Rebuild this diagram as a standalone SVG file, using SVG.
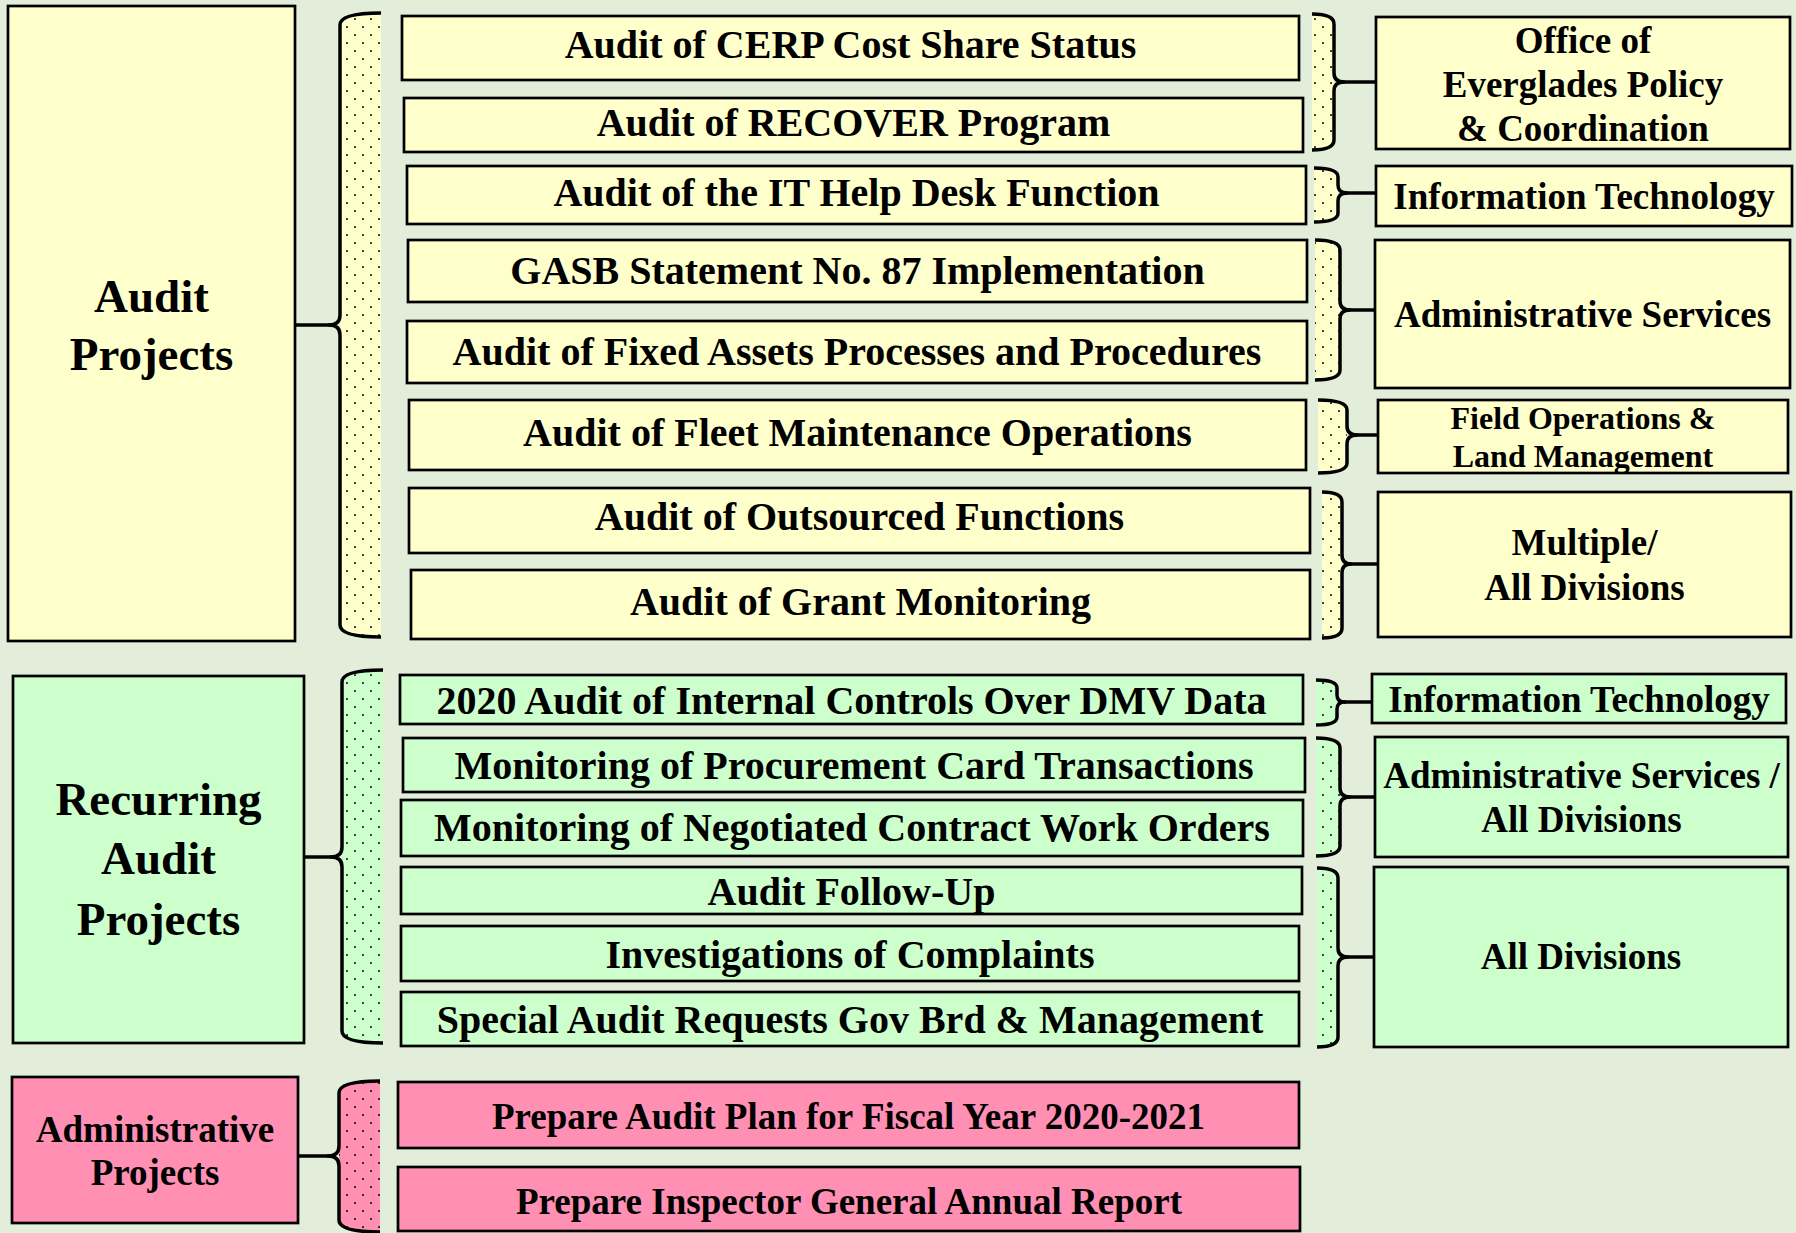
<svg xmlns="http://www.w3.org/2000/svg" width="1796" height="1233" viewBox="0 0 1796 1233">
  <defs>
    <style>
      .bg { fill: #E2EDDA; }
      .y { fill: #FFFFCC; stroke: #000; stroke-width: 2.7; }
      .g { fill: #CCFFCC; stroke: #000; stroke-width: 2.7; }
      .p { fill: #FF8FB3; stroke: #000; stroke-width: 2.7; }
      .fy { fill: #FFFFCC; }
      .fg { fill: #CCFFCC; }
      .fp { fill: #FF8FB3; }
      .dots { fill: url(#dotPattern); }
      .br { fill: none; stroke: #000; stroke-width: 3.5; stroke-linejoin: round; }
      .t { font-family: "Liberation Serif", "Times New Roman", serif; font-weight: bold; text-anchor: middle; fill: #000; }
      .s47 { font-size: 47px; }
      .s40 { font-size: 40px; }
      .s37 { font-size: 37px; }
      .s32 { font-size: 32px; }
    </style>
    <pattern id="dotPattern" x="0" y="0" width="16" height="16" patternUnits="userSpaceOnUse">
      <rect x="2.2" y="2.2" width="1.7" height="1.7" fill="#000"/>
      <rect x="10.2" y="10.2" width="1.7" height="1.7" fill="#000"/>
    </pattern>
  </defs>

  <rect class="bg" x="0" y="0" width="1796" height="1233"/>

  <!-- Braces joining categories, projects and divisions -->
  <g id="connectors">
    <!-- Audit Projects brace -->
    <g id="brace-audit">
      <path class="fy" d="M381,13 Q340,13 340,25 L340,625 Q340,637 381,637 Z"/>
      <path class="dots" d="M381,13 Q340,13 340,25 L340,625 Q340,637 381,637 Z"/>
      <path class="br" d="M381,13 Q340,13 340,25 L340,315 Q340,325 329,325 Q340,325 340,335 L340,625 Q340,637 381,637"/>
      <path class="br" d="M295,325 L330,325"/>
    </g>
    <!-- Recurring Audit Projects brace -->
    <g id="brace-recurring">
      <path class="fg" d="M383,670 Q342,670 342,682 L342,1031 Q342,1043 383,1043 Z"/>
      <path class="dots" d="M383,670 Q342,670 342,682 L342,1031 Q342,1043 383,1043 Z"/>
      <path class="br" d="M383,670 Q342,670 342,682 L342,847 Q342,857 331,857 Q342,857 342,867 L342,1031 Q342,1043 383,1043"/>
      <path class="br" d="M304,857 L332,857"/>
    </g>
    <!-- Administrative Projects brace -->
    <g id="brace-admin">
      <path class="fp" d="M380,1081 Q339,1081 339,1093 L339,1220 Q339,1232 380,1232 Z"/>
      <path class="dots" d="M380,1081 Q339,1081 339,1093 L339,1220 Q339,1232 380,1232 Z"/>
      <path class="br" d="M380,1081 Q339,1081 339,1093 L339,1146 Q339,1156 328,1156 Q339,1156 339,1166 L339,1220 Q339,1232 380,1232"/>
      <path class="br" d="M298,1156 L329,1156"/>
    </g>

    <!-- Division braces (yellow) -->
    <g id="brace-everglades">
      <path class="fy" d="M1312,14 Q1334,14 1334,24 L1334,140 Q1334,150 1312,150 Z"/>
      <path class="dots" d="M1312,14 Q1334,14 1334,24 L1334,140 Q1334,150 1312,150 Z"/>
      <path class="br" d="M1312,14 Q1334,14 1334,24 L1334,73 Q1334,82 1344,82 Q1334,82 1334,91 L1334,140 Q1334,150 1312,150"/>
      <path class="br" d="M1343,82 L1376,82"/>
    </g>
    <g id="brace-it">
      <path class="fy" d="M1314,168 Q1338,168 1338,177 L1338,213 Q1338,222 1314,222 Z"/>
      <path class="dots" d="M1314,168 Q1338,168 1338,177 L1338,213 Q1338,222 1314,222 Z"/>
      <path class="br" d="M1314,168 Q1338,168 1338,177 L1338,185 Q1338,193 1347,193 Q1338,193 1338,201 L1338,213 Q1338,222 1314,222"/>
      <path class="br" d="M1346,193 L1376,193"/>
    </g>
    <g id="brace-admin-services">
      <path class="fy" d="M1315,240 Q1340,240 1340,250 L1340,370 Q1340,380 1315,380 Z"/>
      <path class="dots" d="M1315,240 Q1340,240 1340,250 L1340,370 Q1340,380 1315,380 Z"/>
      <path class="br" d="M1315,240 Q1340,240 1340,250 L1340,301 Q1340,310 1350,310 Q1340,310 1340,319 L1340,370 Q1340,380 1315,380"/>
      <path class="br" d="M1349,310 L1375,310"/>
    </g>
    <g id="brace-field-ops">
      <path class="fy" d="M1318,400 Q1347,400 1347,410 L1347,463 Q1347,473 1318,473 Z"/>
      <path class="dots" d="M1318,400 Q1347,400 1347,410 L1347,463 Q1347,473 1318,473 Z"/>
      <path class="br" d="M1318,400 Q1347,400 1347,410 L1347,426 Q1347,435 1357,435 Q1347,435 1347,444 L1347,463 Q1347,473 1318,473"/>
      <path class="br" d="M1356,435 L1378,435"/>
    </g>
    <g id="brace-multiple">
      <path class="fy" d="M1322,492 Q1342,492 1342,502 L1342,628 Q1342,638 1322,638 Z"/>
      <path class="dots" d="M1322,492 Q1342,492 1342,502 L1342,628 Q1342,638 1322,638 Z"/>
      <path class="br" d="M1322,492 Q1342,492 1342,502 L1342,555 Q1342,564 1351,564 Q1342,564 1342,573 L1342,628 Q1342,638 1322,638"/>
      <path class="br" d="M1350,564 L1378,564"/>
    </g>

    <!-- Division braces (green) -->
    <g id="brace-it-recurring">
      <path class="fg" d="M1316,680 Q1337,680 1337,688 L1337,717 Q1337,725 1316,725 Z"/>
      <path class="dots" d="M1316,680 Q1337,680 1337,688 L1337,717 Q1337,725 1316,725 Z"/>
      <path class="br" d="M1316,680 Q1337,680 1337,688 L1337,695 Q1337,702 1345,702 Q1337,702 1337,709 L1337,717 Q1337,725 1316,725"/>
      <path class="br" d="M1344,702 L1372,702"/>
    </g>
    <g id="brace-admin-all">
      <path class="fg" d="M1316,738 Q1340,738 1340,748 L1340,846 Q1340,856 1316,856 Z"/>
      <path class="dots" d="M1316,738 Q1340,738 1340,748 L1340,846 Q1340,856 1316,856 Z"/>
      <path class="br" d="M1316,738 Q1340,738 1340,748 L1340,788 Q1340,797 1350,797 Q1340,797 1340,806 L1340,846 Q1340,856 1316,856"/>
      <path class="br" d="M1349,797 L1375,797"/>
    </g>
    <g id="brace-all-divisions">
      <path class="fg" d="M1317,868 Q1338,868 1338,878 L1338,1037 Q1338,1047 1317,1047 Z"/>
      <path class="dots" d="M1317,868 Q1338,868 1338,878 L1338,1037 Q1338,1047 1317,1047 Z"/>
      <path class="br" d="M1317,868 Q1338,868 1338,878 L1338,948 Q1338,957 1348,957 Q1338,957 1338,966 L1338,1037 Q1338,1047 1317,1047"/>
      <path class="br" d="M1347,957 L1374,957"/>
    </g>
  </g>

  <!-- Category nodes -->
  <g id="cat-audit">
    <rect class="y" x="8" y="6" width="287" height="635"/>
    <text class="t s47" x="151.5" y="312">Audit</text>
    <text class="t s47" x="151.5" y="370">Projects</text>
  </g>
  <g id="cat-recurring">
    <rect class="g" x="13" y="676" width="291" height="367"/>
    <text class="t s47" x="158.5" y="815">Recurring</text>
    <text class="t s47" x="158.5" y="874">Audit</text>
    <text class="t s47" x="158.5" y="935">Projects</text>
  </g>
  <g id="cat-admin">
    <rect class="p" x="12" y="1077" width="286" height="146"/>
    <text class="t s37" x="155" y="1142">Administrative</text>
    <text class="t s37" x="155" y="1185">Projects</text>
  </g>

  <!-- Audit projects -->
  <g id="proj-cerp">
    <rect class="y" x="402" y="16" width="897" height="64"/>
    <text class="t s40" x="850.5" y="58">Audit of CERP Cost Share Status</text>
  </g>
  <g id="proj-recover">
    <rect class="y" x="404" y="98" width="899" height="54"/>
    <text class="t s40" x="853.5" y="136">Audit of RECOVER Program</text>
  </g>
  <g id="proj-helpdesk">
    <rect class="y" x="407" y="166" width="899" height="58"/>
    <text class="t s40" x="856.5" y="206">Audit of the IT Help Desk Function</text>
  </g>
  <g id="proj-gasb">
    <rect class="y" x="408" y="240" width="899" height="62"/>
    <text class="t s40" x="857.5" y="284">GASB Statement No. 87 Implementation</text>
  </g>
  <g id="proj-fixed-assets">
    <rect class="y" x="407" y="321" width="900" height="62"/>
    <text class="t s40" x="857" y="365">Audit of Fixed Assets Processes and Procedures</text>
  </g>
  <g id="proj-fleet">
    <rect class="y" x="409" y="400" width="897" height="70"/>
    <text class="t s40" x="857.5" y="446">Audit of Fleet Maintenance Operations</text>
  </g>
  <g id="proj-outsourced">
    <rect class="y" x="409" y="488" width="901" height="65"/>
    <text class="t s40" x="859.5" y="530">Audit of Outsourced Functions</text>
  </g>
  <g id="proj-grant">
    <rect class="y" x="411" y="570" width="899" height="69"/>
    <text class="t s40" x="860.5" y="615">Audit of Grant Monitoring</text>
  </g>

  <!-- Recurring audit projects -->
  <g id="rec-dmv">
    <rect class="g" x="400" y="675" width="903" height="49"/>
    <text class="t s40" x="851.5" y="714">2020 Audit of Internal Controls Over DMV Data</text>
  </g>
  <g id="rec-pcard">
    <rect class="g" x="403" y="738" width="902" height="54"/>
    <text class="t s40" x="854" y="779">Monitoring of Procurement Card Transactions</text>
  </g>
  <g id="rec-workorders">
    <rect class="g" x="401" y="800" width="902" height="56"/>
    <text class="t s40" x="852" y="841">Monitoring of Negotiated Contract Work Orders</text>
  </g>
  <g id="rec-followup">
    <rect class="g" x="401" y="867" width="901" height="47"/>
    <text class="t s40" x="851.5" y="905">Audit Follow-Up</text>
  </g>
  <g id="rec-complaints">
    <rect class="g" x="401" y="926" width="898" height="55"/>
    <text class="t s40" x="850" y="968">Investigations of Complaints</text>
  </g>
  <g id="rec-special">
    <rect class="g" x="401" y="992" width="898" height="54"/>
    <text class="t s40" x="850" y="1033">Special Audit Requests Gov Brd &amp; Management</text>
  </g>

  <!-- Administrative projects -->
  <g id="adm-plan">
    <rect class="p" x="398" y="1082" width="901" height="66"/>
    <text class="t s37" x="848.5" y="1129">Prepare Audit Plan for Fiscal Year 2020-2021</text>
  </g>
  <g id="adm-report">
    <rect class="p" x="398" y="1167" width="902" height="64"/>
    <text class="t s37" x="849" y="1214">Prepare Inspector General Annual Report</text>
  </g>

  <!-- Responsible divisions -->
  <g id="div-everglades">
    <rect class="y" x="1376" y="17" width="414" height="132"/>
    <text class="t s37" x="1583" y="53">Office of</text>
    <text class="t s37" x="1583" y="97">Everglades Policy</text>
    <text class="t s37" x="1583" y="141">&amp; Coordination</text>
  </g>
  <g id="div-it">
    <rect class="y" x="1376" y="166" width="416" height="60"/>
    <text class="t s37" x="1584" y="209">Information Technology</text>
  </g>
  <g id="div-admin-services">
    <rect class="y" x="1375" y="240" width="415" height="148"/>
    <text class="t s37" x="1582.5" y="327">Administrative Services</text>
  </g>
  <g id="div-field-ops">
    <rect class="y" x="1378" y="400" width="410" height="73"/>
    <text class="t s32" x="1583" y="429">Field Operations &amp;</text>
    <text class="t s32" x="1583" y="467">Land Management</text>
  </g>
  <g id="div-multiple">
    <rect class="y" x="1378" y="492" width="413" height="145"/>
    <text class="t s37" x="1584.5" y="555">Multiple/</text>
    <text class="t s37" x="1584.5" y="600">All Divisions</text>
  </g>
  <g id="div-it-recurring">
    <rect class="g" x="1372" y="674" width="414" height="49"/>
    <text class="t s37" x="1579" y="712">Information Technology</text>
  </g>
  <g id="div-admin-all">
    <rect class="g" x="1375" y="737" width="413" height="120"/>
    <text class="t s37" x="1581.5" y="788">Administrative Services /</text>
    <text class="t s37" x="1581.5" y="832">All Divisions</text>
  </g>
  <g id="div-all">
    <rect class="g" x="1374" y="867" width="414" height="180"/>
    <text class="t s37" x="1581" y="969">All Divisions</text>
  </g>
</svg>
